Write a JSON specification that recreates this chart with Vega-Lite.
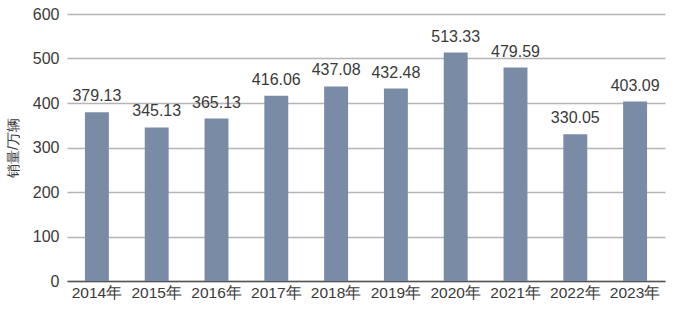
{
  "$schema": "https://vega.github.io/schema/vega-lite/v6.json",
  "autosize": {"type": "none"},
  "width": 598,
  "height": 267,
  "padding": {"left": 67, "top": 14, "right": 15, "bottom": 35},
  "background": "white",
  "config": {
    "view": {"stroke": null},
    "font": "Liberation Sans"
  },
  "data": {
    "values": [
      {"year": "2014年", "sales": 379.13},
      {"year": "2015年", "sales": 345.13},
      {"year": "2016年", "sales": 365.13},
      {"year": "2017年", "sales": 416.06},
      {"year": "2018年", "sales": 437.08},
      {"year": "2019年", "sales": 432.48},
      {"year": "2020年", "sales": 513.33},
      {"year": "2021年", "sales": 479.59},
      {"year": "2022年", "sales": 330.05},
      {"year": "2023年", "sales": 403.09}
    ]
  },
  "encoding": {
    "x": {
      "field": "year",
      "type": "nominal",
      "sort": null,
      "scale": {"paddingInner": 0.6, "paddingOuter": 0.3},
      "axis": {
        "title": null,
        "labelAngle": 0,
        "labelFontSize": 15.5,
        "labelColor": "#3a3a3a",
        "labelPadding": 4,
        "ticks": false,
        "domain": true,
        "domainColor": "#555555",
        "domainWidth": 1.5,
        "labelOverlap": false
      }
    },
    "y": {
      "field": "sales",
      "type": "quantitative",
      "scale": {"domain": [0, 600]},
      "axis": {
        "title": "销量/万辆",
        "titleFontSize": 14,
        "titleFontWeight": "normal",
        "titleColor": "#3a3a3a",
        "titlePadding": 12,
        "values": [0, 100, 200, 300, 400, 500, 600],
        "labelOverlap": false,
        "labelFontSize": 16,
        "labelColor": "#3a3a3a",
        "labelPadding": 8,
        "ticks": false,
        "domain": false,
        "grid": true,
        "gridColor": "#b5b5b5",
        "gridWidth": 1.5
      }
    }
  },
  "layer": [
    {"mark": {"type": "bar", "color": "#7a8ba6"}},
    {
      "mark": {"type": "text", "baseline": "bottom", "dy": -8, "fontSize": 16, "color": "#3a3a3a"},
      "encoding": {"text": {"field": "sales", "type": "quantitative", "format": ".2f"}}
    }
  ]
}
